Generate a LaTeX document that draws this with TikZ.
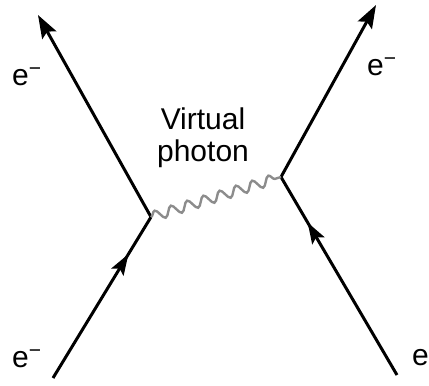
\documentclass[tikz,border=0pt]{standalone}
\usepackage{fontspec}
\setmainfont{Liberation Sans}
\usetikzlibrary{arrows.meta,decorations.pathmorphing,decorations.markings}
\definecolor{photongray}{HTML}{8C8C8C}
\newcommand{\elec}{e\textsuperscript{\char"2212}}

\begin{document}
\begin{tikzpicture}[x=1pt, y=-1pt, font=\fontsize{30}{32}\selectfont,
    fermion/.style={line width=3pt, -{Stealth[length=23pt,width=16pt,inset=4pt]}},
    incoming/.style={line width=3pt, postaction={decorate},
      decoration={markings, mark=at position 0.77 with {\arrow{Stealth[length=21pt,width=14pt,inset=4pt]}}}},
    photon/.style={draw=photongray, line width=2.4pt, decorate,
      decoration={snake, segment length=17pt, amplitude=5pt}},
    lbl/.style={anchor=base west, inner sep=0pt}]
    \useasboundingbox (0,0) rectangle (429,386);
    % Vertices and line ends
    \coordinate (vL) at (151,217);
    \coordinate (vR) at (281,177);
    \coordinate (inL) at (53,378);
    \coordinate (outL) at (38,15);
    \coordinate (inR) at (397,375);
    \coordinate (outR) at (376,5);

    % Labels
    \node[lbl] (eOutL) at (12,85) {\elec};
    \node[lbl] (eInL) at (12,367) {\elec};
    \node[lbl] (eOutR) at (367,75) {\elec};
    \node[lbl] (eInR) at (412,365) {\elec};
    \node[align=center, inner sep=0pt] (vphoton) at (203,138) {Virtual\\photon};

    % Electron lines
    \draw[incoming] (inL) -- (vL);
    \draw[fermion] (vL) -- (outL);
    \draw[incoming] (inR) -- (vR);
    \draw[fermion] (vR) -- (outR);

    % Exchanged photon
    \draw[photon] (vL) -- (vR);
\end{tikzpicture}
\end{document}
